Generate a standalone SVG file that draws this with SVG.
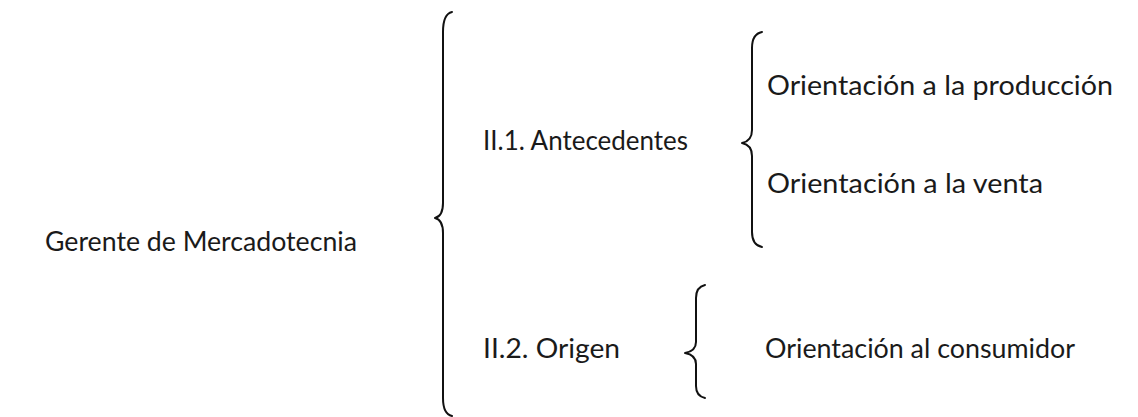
<svg xmlns="http://www.w3.org/2000/svg" width="1138" height="417" viewBox="0 0 1138 417">
<style>
text{font-family:"Lato","Liberation Sans",sans-serif;font-size:26px;fill:#1a1a1a}
.br{fill:none;stroke:#111;stroke-width:2;stroke-linecap:round;stroke-linejoin:round}
</style>
<rect width="1138" height="417" fill="#fff"/>
<g id="connectors">
<path class="br" d="M452,12 Q443,14 443,32 L443,203 Q443,216 435,218 Q443,220 443,233 L443,398 Q443,414 452,416"/>
<path class="br" d="M762,32 Q752,34 752,48 L752,130 Q752,141 742,143 Q752,145 752,156 L752,232 Q752,245 762,247"/>
<path class="br" d="M705,285 Q696,287 696,298 L696,342 Q696,351 685,353 Q696,355 696,364 L696,386 Q696,396 705,398"/>
</g>
<g id="n-gerente"><text x="45" y="251" textLength="312" lengthAdjust="spacingAndGlyphs">Gerente de Mercadotecnia</text></g>
<g id="n-antecedentes"><text x="483" y="150" textLength="205" lengthAdjust="spacingAndGlyphs">II.1. Antecedentes</text></g>
<g id="n-produccion"><text x="767" y="95" textLength="346" lengthAdjust="spacingAndGlyphs">Orientación a la producción</text></g>
<g id="n-venta"><text x="767" y="193" textLength="276" lengthAdjust="spacingAndGlyphs">Orientación a la venta</text></g>
<g id="n-origen"><text x="483" y="358" textLength="137" lengthAdjust="spacingAndGlyphs">II.2. Origen</text></g>
<g id="n-consumidor"><text x="765" y="358" textLength="310" lengthAdjust="spacingAndGlyphs">Orientación al consumidor</text></g>
</svg>
